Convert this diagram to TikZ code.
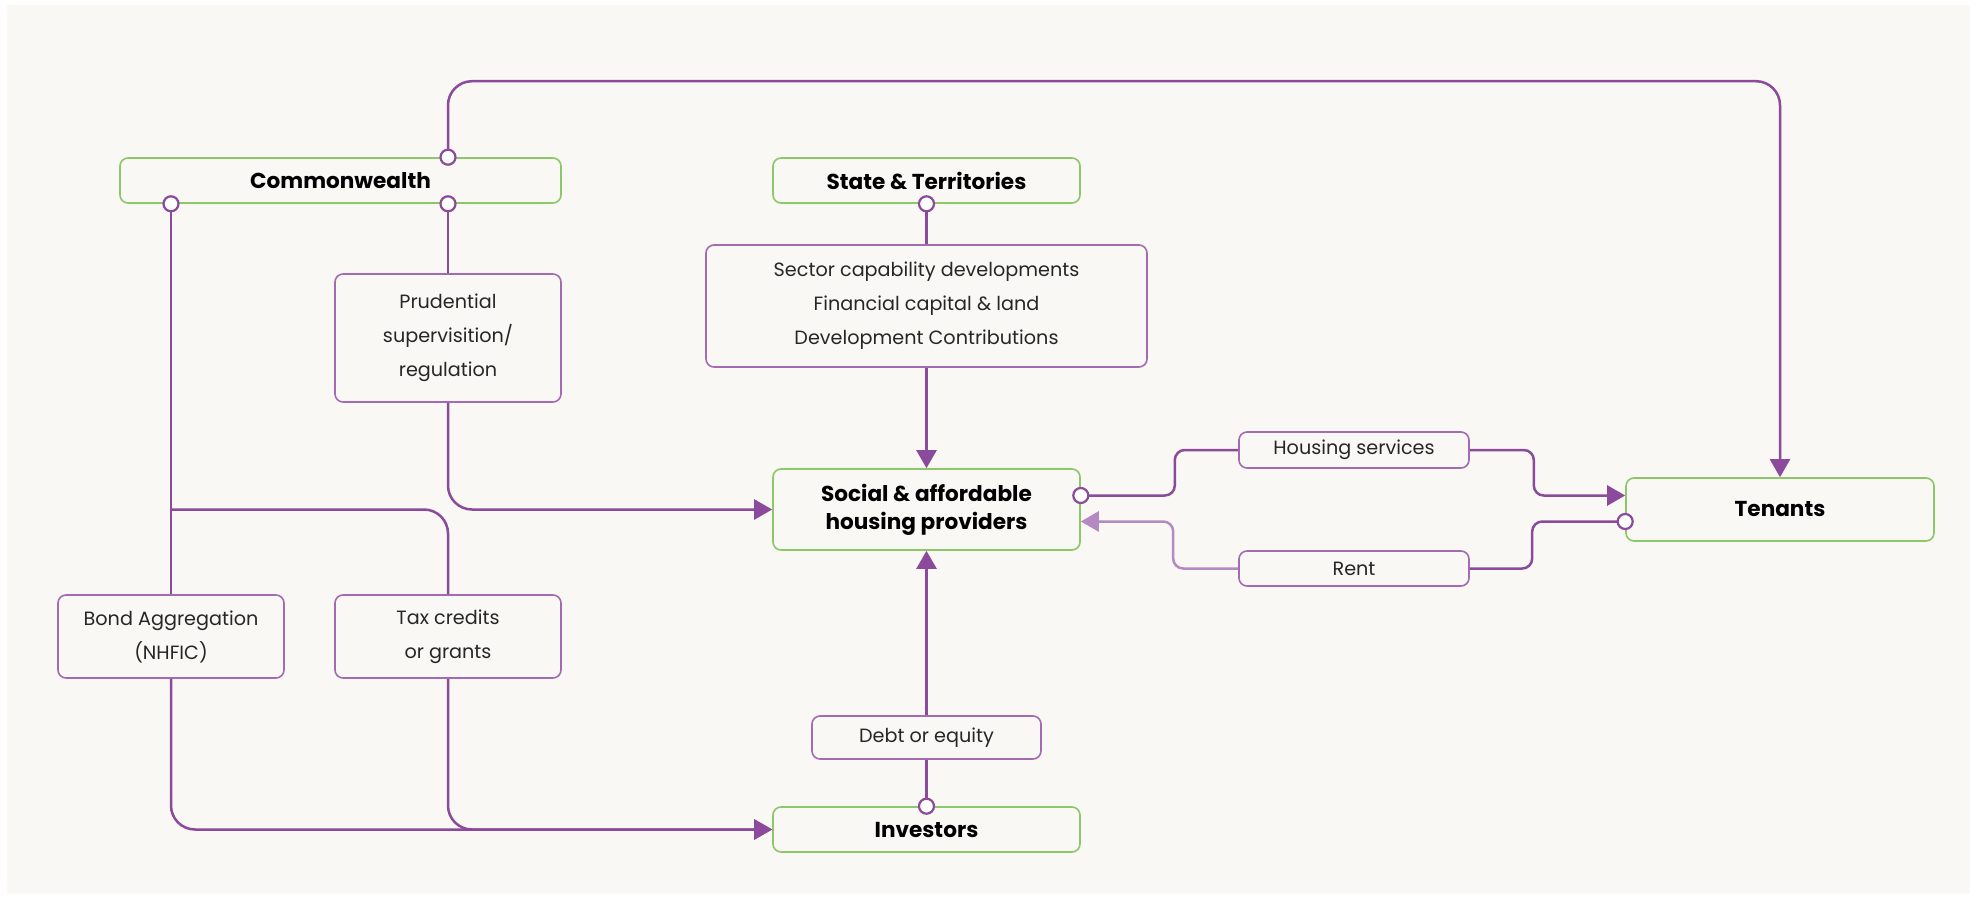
\documentclass[tikz,border=0pt]{standalone}
\usepackage{fontspec}
\setmainfont{Poppins}
\usetikzlibrary{arrows.meta}
\definecolor{pl}{HTML}{8B4A9C}
\definecolor{pb}{HTML}{A46AB4}
\definecolor{pfade}{HTML}{B58AC2}
\definecolor{gb}{HTML}{8CC76A}
\definecolor{bg}{HTML}{F9F8F4}
\begin{document}
\begin{tikzpicture}[x=0.5pt,y=-0.5pt,
 box/.style={draw=gb, line width=0.8pt, rounded corners=4pt, inner sep=0pt, align=center, font=\bfseries\fontsize{10.8}{14}\selectfont, text=black},
 lbl/.style={draw=pb, line width=0.8pt, rounded corners=4pt, inner sep=0pt, align=center, font=\fontsize{9.6}{17}\selectfont, text=black!85},
 con/.style={draw=pl, line width=1.25pt, rounded corners=12pt},
 sm/.style={rounded corners=5pt},
 arr/.style={-{Triangle[length=9pt,width=10pt]}},
 dot/.style={circle, draw=pl, fill=white, line width=1.1pt, minimum size=7.5pt, inner sep=0pt}]
\fill[white] (0,0) rectangle (1977,899);
\fill[bg] (7,5) rectangle (1970,894);
\useasboundingbox (0,0) rectangle (1977,899);

\node[box, minimum width=220.5pt, minimum height=22.5pt] (cw) at (340.5,180.5) {Commonwealth};
\node[box, minimum width=153.5pt, minimum height=22.5pt] (st) at (926.5,180.5) {State \& Territories};
\node[lbl, minimum width=220.5pt, minimum height=61pt] (sec) at (926.5,306) {Sector capability developments\\Financial capital \& land\\Development Contributions};
\node[lbl, minimum width=113pt, minimum height=64pt] (pru) at (448,338) {Prudential\\supervisition/\\regulation};
\node[box, minimum width=153.5pt, minimum height=40.5pt] (soc) at (926.5,509.5) {Social \& affordable\\housing providers};
\node[lbl, minimum width=115pt, minimum height=18pt] (hs) at (1354,450) {Housing services};
\node[lbl, minimum width=115pt, minimum height=17.5pt] (rent) at (1354,568.5) {Rent};
\node[box, minimum width=154pt, minimum height=31.5pt] (ten) at (1780,509.5) {Tenants};
\node[lbl, minimum width=113pt, minimum height=41.5pt] (bond) at (171,636.5) {Bond Aggregation\\(NHFIC)};
\node[lbl, minimum width=113pt, minimum height=41.5pt] (tax) at (448,636.5) {Tax credits\\or grants};
\node[lbl, minimum width=114.5pt, minimum height=21.5pt] (debt) at (926.5,737.5) {Debt or equity};
\node[box, minimum width=153.5pt, minimum height=22.5pt] (inv) at (926.5,829.5) {Investors};

\coordinate (cwT) at (cw.north -| pru);
\coordinate (cwB) at (cw.south -| pru);
\coordinate (cwL) at (cw.south -| bond);
\coordinate (br) at (bond.north |- soc.west);
\coordinate (s1) at ([yshift=7pt]soc.east);
\coordinate (s2) at ([yshift=-6pt]soc.east);
\coordinate (t1) at ([yshift=7pt]ten.west);
\coordinate (t2) at ([yshift=-6pt]ten.west);

\draw[con,arr] (cwT) -- ++(0,-76) -| (ten.north);
\draw[con] (cwB) -- (pru.north);
\draw[con,arr] (pru.south) |- (soc.west);
\draw[con] (cwL) -- (bond.north);
\draw[con] (br) -| (tax.north);
\draw[con,arr] (bond.south) |- (inv.west);
\draw[con,arr] (tax.south) |- (inv.west);
\draw[con] (st.south) -- (sec.north);
\draw[con,arr] (sec.south) -- (soc.north);
\draw[con] (inv.north) -- (debt.south);
\draw[con,arr] (debt.north) -- (soc.south);
\draw[con,sm] (s1) -- ++(94,0) |- (hs.west);
\draw[con,sm,arr] (hs.east) -- ++(64,0) |- (t1);
\draw[con,sm] (t2) -- ++(-93,0) |- (rent.east);
\draw[con,sm,arr,draw=pfade] (rent.west) -- ++(-65,0) |- (s2);

\foreach \p in {cwT,cwB,cwL,s1,t2} \node[dot] at (\p) {};
\node[dot] at (st.south) {};
\node[dot] at (inv.north) {};
\end{tikzpicture}
\end{document}
